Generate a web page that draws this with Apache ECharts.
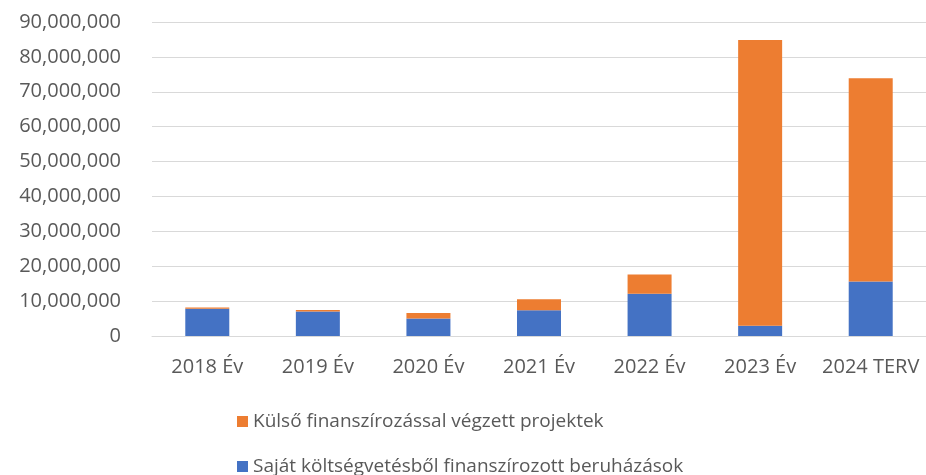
<!DOCTYPE html>
<html>
<head>
<meta charset="utf-8">
<script src="https://cdn.jsdelivr.net/npm/echarts@6/dist/echarts.min.js"></script>
<style>
  html, body { margin: 0; padding: 0; background: #fff; }
  #chart { width: 926px; height: 475px; }
</style>
</head>
<body>
<div id="chart"></div>
<script>
// adatok
const categories = ['2018 Év', '2019 Év', '2020 Év', '2021 Év', '2022 Év', '2023 Év', '2024 TERV']
const sajatValues = [7800000, 7000000, 5000000, 7400000, 12100000, 2950000, 15600000]
const kulsoValues = [400000, 450000, 1600000, 3100000, 5500000, 81900000, 58300000]
const sajatName = 'Saját költségvetésből finanszírozott beruházások'
const kulsoName = 'Külső finanszírozással végzett projektek'

const chart = echarts.init(document.getElementById('chart'))
const font = 'Open Sans'
const fontSize = 20

const option = {
  animation: false,
  grid: {
    left: 152,
    right: 0,
    top: 22,
    bottom: 139
  },
  legend: {
    data: [kulsoName, sajatName],
    orient: 'vertical',
    left: 232,
    top: 407,
    height: 90,
    itemGap: 26,
    itemWidth: 11,
    itemHeight: 11,
    icon: 'rect',
    textStyle: { fontFamily: font, fontSize: 19, color: '#595959' }
  },
  xAxis: {
    type: 'category',
    data: categories,
    axisLine: { lineStyle: { color: '#d9d9d9', width: 1 } },
    axisTick: { show: false },
    axisLabel: { fontFamily: font, fontSize: fontSize, color: '#595959', margin: 21, interval: 0 }
  },
  yAxis: {
    type: 'value',
    min: 0,
    max: 90000000,
    interval: 10000000,
    axisLine: { show: false },
    axisTick: { show: false },
    splitLine: { lineStyle: { color: '#d9d9d9', width: 1 } },
    axisLabel: {
      fontFamily: font,
      fontSize: fontSize,
      color: '#595959',
      margin: 31,
      formatter: v => v.toLocaleString('en-US')
    }
  },
  series: [
    {
      name: sajatName,
      type: 'bar',
      stack: 'total',
      data: sajatValues,
      barWidth: 44,
      itemStyle: { color: '#4472c4' }
    },
    {
      name: kulsoName,
      type: 'bar',
      stack: 'total',
      data: kulsoValues,
      barWidth: 44,
      itemStyle: { color: '#ed7d31' }
    }
  ]
}
chart.setOption(option)
</script>
</body>
</html>
